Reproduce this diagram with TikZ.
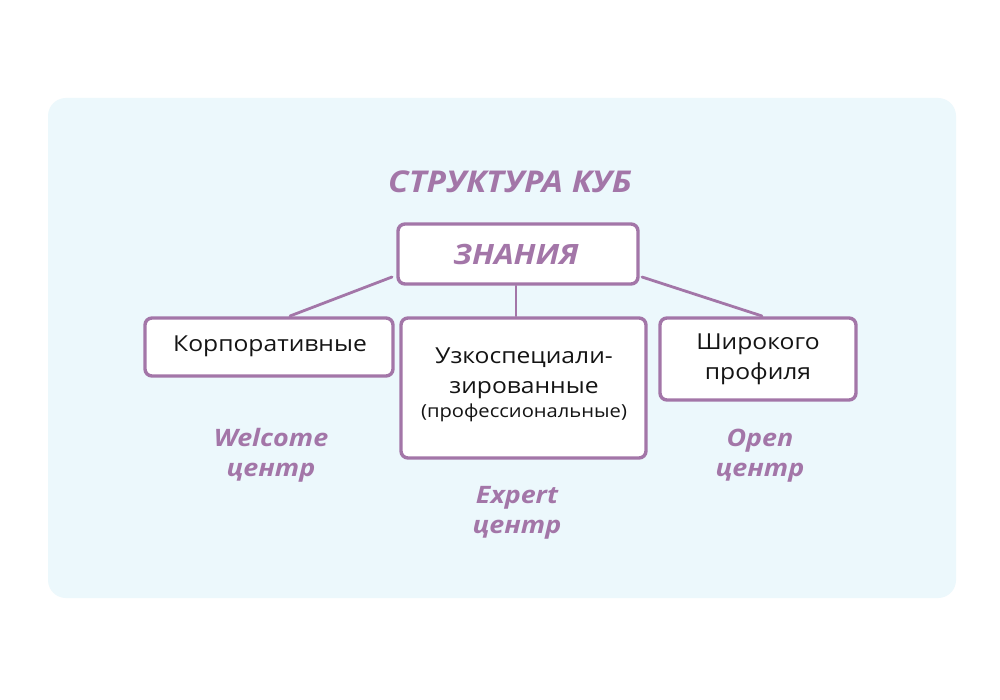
\documentclass[tikz,border=0pt]{standalone}
\usepackage{fontspec}
\setmainfont{Open Sans}[FakeStretch=1.12]
\definecolor{kpurple}{RGB}{163,118,168}
\definecolor{kpanel}{RGB}{236,248,252}
\definecolor{ktext}{RGB}{20,20,20}
\begin{document}
\begin{tikzpicture}[x=1pt,y=-1pt,
  box/.style={draw=kpurple,line width=3.4pt,rounded corners=7pt,fill=white},
  link/.style={draw=kpurple,line width=2.8pt,line cap=round},
  title/.style={text=kpurple,font=\fontsize{30}{34}\selectfont\bfseries\itshape},
  label/.style={text=kpurple,font=\fontsize{24}{30}\selectfont\bfseries\itshape,align=center},
  body/.style={text=ktext,font=\fontsize{22}{30}\selectfont,align=center}]
\useasboundingbox (0,0) rectangle (1000,700);
\fill[white] (0,0) rectangle (1000,700);
\fill[kpanel,rounded corners=18pt] (48,98) rectangle (956,598);
% boxes
\draw[box] (398,224) rectangle (638,284);
\coordinate (kn) at (516,254);
\draw[box] (145,318) rectangle (393,376);
\draw[box] (401,318) rectangle (646,458);
\draw[box] (660,318) rectangle (856,400);
% anchors on box edges
\coordinate (knL) at (392,277);
\coordinate (knR) at (642,277);
\coordinate (knB) at (516,286);
\coordinate (kT) at (290,316);
\coordinate (uT) at (516,316);
\coordinate (sT) at (762,316);
\draw[link] (knL) -- (kT);
\draw[link] (knB) -- (uT);
\draw[link] (knR) -- (sT);
\node[title] (ttl) at (510,182) {СТРУКТУРА КУБ};
\node[title,font=\fontsize{28}{32}\selectfont\bfseries\itshape] (zn) at (kn) {ЗНАНИЯ};
\node[body] (korp) at (270,346) {Корпоративные};
\node[body] (uzk) at (524,373) {Узкоспециали-\\зированные};
\node[body,font=\fontsize{18}{22}\selectfont] (prof) at (524,413) {(профессиональные)};
\node[body] (shir) at (758,359) {Широкого\\профиля};
\node[label] (wel) at (271,455) {Welcome\\центр};
\node[label] (exp) at (517,513) {Expert\\центр};
\node[label] (opn) at (760,456) {Open\\центр};
\end{tikzpicture}
\end{document}
